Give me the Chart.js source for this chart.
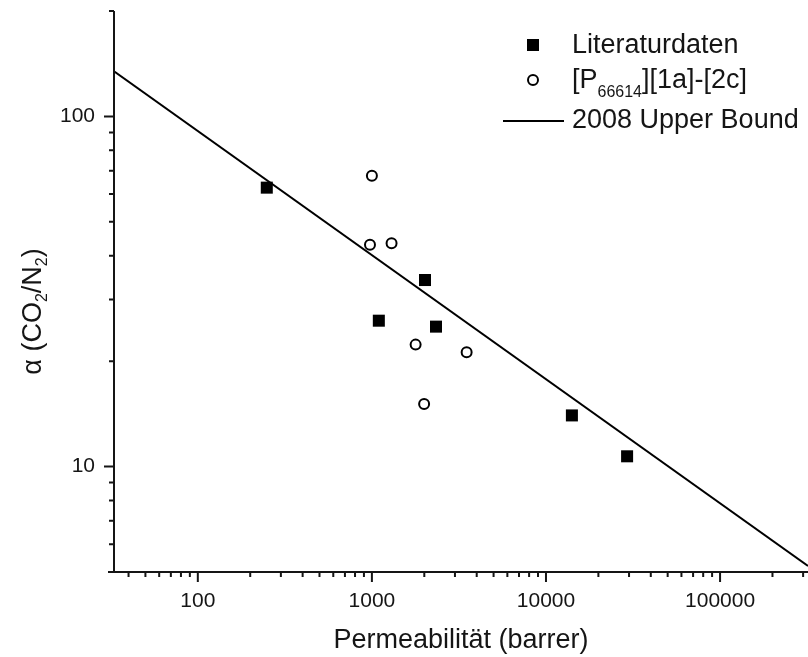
<!DOCTYPE html>
<html>
<head>
  <script src="https://cdn.jsdelivr.net/npm/chart.js@4.4.0/dist/chart.umd.min.js"></script>
  <style>
    * { margin: 0; padding: 0; }
    body { background: #fff; width: 808px; height: 657px; overflow: hidden; }
    #wrap { position: relative; width: 808px; height: 657px; }
  </style>
</head>
<body>
  <div id="wrap"><canvas id="chart" width="808" height="657"></canvas></div>

  <script>
    // literature data (filled squares)
    const litX = [249, 1096, 2018, 2335, 14090, 29240];
    const litY = [62.6, 26.1, 34.1, 25.1, 14.0, 10.7];
    // [P66614][1a]-[2c] (open circles)
    const ilX = [975, 1000, 1297, 1783, 1995, 3501];
    const ilY = [43.0, 67.7, 43.4, 22.3, 15.1, 21.2];
    // 2008 upper bound, end points
    const boundX = [33, 320000];
    const boundY = [134.5, 5.2];

    const xLabels = [100, 1000, 10000, 100000];
    const yLabels = [10, 100];
    const xRange = [33, 320000];
    const yRange = [5, 200];

    const ink = '#151515';
    const fontFam = '"Liberation Sans", Arial, sans-serif';

    function zip(xs, ys) { return xs.map((x, i) => ({ x: x, y: ys[i] })); }

    // major + minor tick values 1..9 x 10^n within range
    function logTicks(min, max) {
      const out = [];
      for (let e = Math.floor(Math.log10(min)); e <= Math.ceil(Math.log10(max)); e++) {
        for (let m = 1; m <= 9; m++) {
          const v = m * Math.pow(10, e);
          if (v >= min && v <= max) out.push(v);
        }
      }
      return out;
    }
    function isMajor(v) { return Math.abs(Math.log10(v) - Math.round(Math.log10(v))) < 1e-9; }

    const axesPlugin = {
      id: 'axes',
      afterDraw(chart) {
        const ctx = chart.ctx;
        const xs = chart.scales.x, ys = chart.scales.y;
        const L = xs.left, B = ys.bottom, T = ys.top, R = xs.right;
        ctx.save();
        ctx.strokeStyle = ink;
        ctx.lineWidth = 2;
        ctx.beginPath();
        ctx.moveTo(L - 6, B); ctx.lineTo(R, B);
        ctx.moveTo(L, T); ctx.lineTo(L, B);
        xs.ticks.forEach(t => {
          const p = xs.getPixelForValue(t.value);
          const len = isMajor(t.value) ? 10 : 5;
          ctx.moveTo(p, B); ctx.lineTo(p, B + len);
        });
        ys.ticks.forEach(t => {
          const p = ys.getPixelForValue(t.value);
          const len = isMajor(t.value) ? 10 : 5;
          ctx.moveTo(L, p); ctx.lineTo(L - len, p);
        });
        ctx.stroke();

        // y axis title with subscripts, rotated
        ctx.fillStyle = ink;
        ctx.textBaseline = 'alphabetic';
        const parts = [['α (CO', 0], ['2', 1], ['/N', 0], ['2', 1], [')', 0]];
        const big = '27px ' + fontFam, small = '16px ' + fontFam;
        let w = 0;
        parts.forEach(p => { ctx.font = p[1] ? small : big; w += ctx.measureText(p[0]).width; });
        ctx.translate(41, (T + B) / 2 + 20);
        ctx.rotate(-Math.PI / 2);
        let cx = -w / 2;
        parts.forEach(p => {
          ctx.font = p[1] ? small : big;
          ctx.fillText(p[0], cx, p[1] ? 6 : 0);
          cx += ctx.measureText(p[0]).width;
        });
        ctx.restore();

        // legend
        ctx.save();
        ctx.fillStyle = '#000';
        ctx.strokeStyle = '#000';
        ctx.fillRect(527, 39, 12, 12);
        ctx.lineWidth = 2;
        ctx.beginPath();
        ctx.arc(533, 80, 5, 0, Math.PI * 2);
        ctx.stroke();
        ctx.beginPath();
        ctx.moveTo(503, 121); ctx.lineTo(564, 121);
        ctx.stroke();
        ctx.fillStyle = ink;
        ctx.textBaseline = 'middle';
        ctx.font = big;
        ctx.fillText('Literaturdaten', 572, 46);
        let lx = 572;
        ctx.fillText('[P', lx, 81);
        lx += ctx.measureText('[P').width;
        ctx.font = small;
        ctx.fillText('66614', lx, 93);
        lx += ctx.measureText('66614').width;
        ctx.font = big;
        ctx.fillText('][1a]-[2c]', lx, 81);
        ctx.fillText('2008 Upper Bound', 572, 121);
        ctx.restore();
      }
    };

    new Chart(document.getElementById('chart'), {
      type: 'scatter',
      data: {
        datasets: [
          {
            label: '2008 Upper Bound',
            type: 'line',
            data: zip(boundX, boundY),
            borderColor: '#000',
            borderWidth: 2,
            pointRadius: 0,
            fill: false
          },
          {
            label: 'Literaturdaten',
            data: zip(litX, litY),
            pointStyle: 'rect',
            pointRadius: 8.5,
            backgroundColor: '#000',
            borderColor: '#000',
            borderWidth: 0
          },
          {
            label: '[P66614][1a]-[2c]',
            data: zip(ilX, ilY),
            pointStyle: 'circle',
            pointRadius: 5,
            backgroundColor: 'rgba(0,0,0,0)',
            borderColor: '#000',
            borderWidth: 2
          }
        ]
      },
      options: {
        responsive: false,
        animation: false,
        layout: { autoPadding: false, padding: { top: 11, right: 0, left: 0, bottom: 0 } },
        plugins: { legend: { display: false }, tooltip: { enabled: false } },
        scales: {
          x: {
            type: 'logarithmic',
            min: xRange[0],
            max: xRange[1],
            afterBuildTicks: s => { s.ticks = logTicks(xRange[0], xRange[1]).map(v => ({ value: v })); },
            afterFit: s => { s.height = 85; s.paddingLeft = 0; s.paddingRight = 0; },
            grid: { display: false, drawTicks: false },
            border: { display: false },
            ticks: {
              autoSkip: false,
              maxRotation: 0,
              padding: 17,
              color: ink,
              font: { family: fontFam, size: 21 },
              callback: v => xLabels.includes(v) ? String(v) : ''
            },
            title: {
              display: true,
              text: 'Permeabilität (barrer)',
              color: ink,
              font: { family: fontFam, size: 27 },
              padding: { top: 0, bottom: 0 }
            }
          },
          y: {
            type: 'logarithmic',
            min: yRange[0],
            max: yRange[1],
            afterBuildTicks: s => { s.ticks = logTicks(yRange[0], yRange[1]).map(v => ({ value: v })); },
            afterFit: s => { s.width = 114; s.paddingTop = 0; s.paddingBottom = 0; },
            grid: { display: false, drawTicks: false },
            border: { display: false },
            ticks: {
              autoSkip: false,
              padding: 19,
              color: ink,
              font: { family: fontFam, size: 21 },
              callback: v => yLabels.includes(v) ? String(v) : ''
            }
          }
        }
      },
      plugins: [axesPlugin]
    });
  </script>
</body>
</html>
